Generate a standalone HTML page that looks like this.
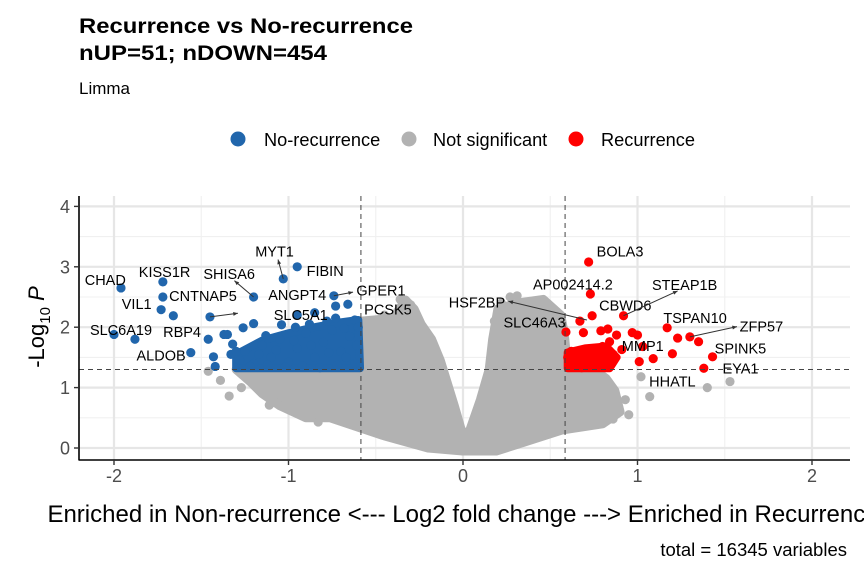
<!DOCTYPE html>
<html><head><meta charset="utf-8"><style>
body{margin:0;background:#fff;font-family:"Liberation Sans",Arial,sans-serif}
svg{display:block}
</style></head><body>
<svg id="chart" width="864" height="576" xmlns="http://www.w3.org/2000/svg" font-family="Liberation Sans, Arial, sans-serif">
<text x="79" y="33" font-size="21" font-weight="bold" fill="#000" textLength="334" lengthAdjust="spacingAndGlyphs">Recurrence vs No-recurrence</text>
<text x="79" y="60" font-size="21" font-weight="bold" fill="#000" textLength="248" lengthAdjust="spacingAndGlyphs">nUP=51; nDOWN=454</text>
<text x="79" y="94" font-size="17" fill="#000">Limma</text>
<g>
<g><circle cx="238" cy="139" r="7.5" fill="#2166ac"/><text x="264" y="146" font-size="18.2" fill="#000">No-recurrence</text></g>
<g><circle cx="409" cy="139" r="7.5" fill="#b2b2b2"/><text x="433" y="146" font-size="18.2" fill="#000">Not significant</text></g>
<g><circle cx="576" cy="139" r="7.5" fill="#ff0000"/><text x="601" y="146" font-size="18.2" fill="#000">Recurrence</text></g>
</g>
<g id="grid"></g>
<g id="marks"></g>
<g id="annot"></g>
<g id="axes"></g>
<text x="463" y="522" font-size="24" text-anchor="middle" fill="#000">Enriched in Non-recurrence &lt;--- Log2 fold change ---&gt; Enriched in Recurrence</text>
<text transform="translate(44,327) rotate(-90)" font-size="22" text-anchor="middle" fill="#000">-Log<tspan font-size="15" dy="6">10</tspan><tspan dy="-6" font-style="italic"> P</tspan></text>
<text x="847" y="556" font-size="18.5" text-anchor="end" fill="#000">total = 16345 variables</text>
</svg>
<script>
const xTicks=[-2,-1,0,1,2];
const yTicks=[0,1,2,3,4];
const fcCut=0.585, pCut=1.3;
// gray cloud envelopes [log2FC, -log10P]
const grayLeftPoly=[[0,-0.05],[-0.2,0.0],[-0.45,0.2],[-0.76,0.5],[-0.9,0.5],[-1.05,0.7],[-1.15,0.9],[-1.22,1.1],[-1.3,1.3],[-0.6,1.3],[-0.58,2.1],[-0.4,2.15],[-0.33,2.45],[-0.28,2.3],[-0.24,2.05],[-0.18,1.8],[-0.13,1.45],[-0.05,0.7],[0,0.2]];
const grayRightPoly=[[0,0.2],[0.04,0.3],[0.1,0.8],[0.15,1.3],[0.17,1.8],[0.2,2.3],[0.31,2.4],[0.46,2.46],[0.56,2.2],[0.58,1.9],[0.6,1.3],[0.75,1.3],[0.82,1.15],[0.87,0.95],[0.9,0.6],[0.8,0.4],[0.57,0.3],[0.3,0.05],[0.19,-0.05],[0,-0.05]];
const grayX=[-1.46,-1.39,-1.34,-1.27,-1.11,-0.83,-0.36,-0.3,-0.23,-0.45,-0.5,-1.2,-1.0,-0.95,0.27,0.31,0.22,0.86,0.93,1.07,1.02,1.4,1.53,0.66,0.74,0.8,0.18,-0.7,-0.9,0.95];
const grayY=[1.27,1.12,0.86,1.0,0.71,0.43,2.46,2.37,2.0,2.2,2.05,1.2,1.05,0.9,2.5,2.52,2.4,0.48,0.8,0.85,1.18,1.0,1.1,0.55,0.4,1.0,2.1,0.6,0.55,0.55];
// dense significant masses
const blueDensePoly=[[-1.3,1.32],[-1.3,1.55],[-1.15,1.78],[-1.0,1.9],[-0.85,2.0],[-0.7,2.08],[-0.6,2.12],[-0.59,1.32]];
const redDensePoly=[[0.6,1.32],[0.6,1.58],[0.7,1.65],[0.82,1.68],[0.88,1.5],[0.84,1.32]];
// significant blue (down)
const blueX=[-1.96,-1.72,-1.72,-1.73,-1.66,-2.0,-1.88,-1.56,-1.45,-1.2,-1.03,-0.95,-0.74,-0.73,-0.66,-0.95,-0.85,-1.2,-1.26,-1.35,-1.46,-1.43,-1.33,-1.42,-1.13,-1.04,-0.96,-0.73,-0.62,-1.28,-1.25,-1.2,-1.15,-1.1,-1.05,-1.0,-0.95,-0.9,-0.85,-0.8,-0.75,-0.7,-0.65,-0.6,-1.22,-1.12,-1.02,-0.92,-0.82,-0.72,-0.62,-1.17,-1.07,-0.97,-0.87,-0.77,-0.67,-0.61,-1.3,-0.88,-0.78,-0.68,-1.37,-1.32];
const blueY=[2.65,2.75,2.5,2.29,2.19,1.88,1.8,1.58,2.17,2.5,2.8,3.0,2.52,2.35,2.38,2.2,2.24,2.06,1.99,1.88,1.8,1.51,1.55,1.35,1.86,2.04,2.0,2.15,2.12,1.45,1.6,1.4,1.7,1.5,1.8,1.42,1.65,1.9,1.5,1.75,1.95,1.6,1.85,2.0,1.35,1.38,1.34,1.36,1.33,1.37,1.4,1.55,1.62,1.78,1.7,1.58,1.5,1.7,1.6,2.05,2.1,1.98,1.88,1.72];
// significant red (up)
const redX=[0.72,0.73,0.74,0.67,0.92,1.17,1.3,1.23,1.35,1.43,1.38,1.2,1.09,1.01,1.03,0.97,1.0,0.88,0.79,0.83,0.69,0.59,0.84,0.91,0.8,0.6,0.63,0.66,0.7,0.73,0.76,0.62,0.68,0.75,0.78,0.82,0.65,0.71,0.86];
const redY=[3.08,2.55,2.19,2.1,2.19,1.99,1.84,1.82,1.76,1.51,1.32,1.56,1.48,1.43,1.68,1.91,1.87,1.87,1.94,1.97,1.91,1.92,1.76,1.63,1.68,1.5,1.35,1.55,1.42,1.5,1.38,1.6,1.33,1.58,1.45,1.52,1.48,1.62,1.55];
// labels
const labNames=["CHAD","KISS1R","SHISA6","MYT1","FIBIN","CNTNAP5","ANGPT4","GPER1","VIL1","SLC5A1","PCSK5","SLC6A19","RBP4","ALDOB","BOLA3","AP002414.2","HSF2BP","STEAP1B","CBWD6","SLC46A3","TSPAN10","ZFP57","MMP1","SPINK5","EYA1","HHATL"];
const labX=[-2.05,-1.71,-1.34,-1.08,-0.79,-1.49,-0.95,-0.47,-1.87,-0.93,-0.43,-1.96,-1.61,-1.73,0.9,0.63,0.08,1.27,0.93,0.41,1.33,1.71,1.03,1.59,1.59,1.2];
const labY=[2.78,2.91,2.88,3.25,2.93,2.52,2.53,2.61,2.38,2.2,2.29,1.95,1.92,1.53,3.25,2.71,2.41,2.7,2.36,2.08,2.15,2.01,1.69,1.65,1.32,1.1];
const arrows=[[-1.03,2.8,-1.06,3.12],[-1.2,2.5,-1.31,2.77],[-0.74,2.52,-0.63,2.58],[-1.45,2.17,-1.29,2.23],[0.71,2.12,0.26,2.43],[0.92,2.19,1.23,2.6],[1.3,1.84,1.57,2.01]];

const ns="http://www.w3.org/2000/svg";
const X0=79,X1=850,Y0=196,Y1=460;
const sx=v=>463+v*174.5;
const sy=v=>448-v*60.4;
function mk(tag,attrs,parent){const e=document.createElementNS(ns,tag);for(const k in attrs)e.setAttribute(k,attrs[k]);parent.appendChild(e);return e;}
const grid=document.getElementById('grid'),marks=document.getElementById('marks'),annot=document.getElementById('annot'),axes=document.getElementById('axes');
for(let i=0;i<xTicks.length-1;i++){const v=(xTicks[i]+xTicks[i+1])/2;const l=mk('line',{x1:sx(v),x2:sx(v),y1:Y0,y2:Y1,stroke:'#f0f0f0','stroke-width':1.1},grid);}
for(let i=0;i<yTicks.length-1;i++){const v=yTicks[i]+0.5;const l=mk('line',{x1:X0,x2:X1,y1:sy(v),y2:sy(v),stroke:'#f0f0f0','stroke-width':1.1},grid);}
xTicks.forEach(v=>{const l=mk('line',{x1:sx(v),x2:sx(v),y1:Y0,y2:Y1,stroke:'#e6e6e6','stroke-width':2.2},grid);});
yTicks.forEach(v=>{const l=mk('line',{x1:X0,x2:X1,y1:sy(v),y2:sy(v),stroke:'#e6e6e6','stroke-width':2.2},grid);});
[grayLeftPoly,grayRightPoly].forEach(p=>{const e=mk('polygon',{points:p.map(d=>sx(d[0])+','+sy(d[1])).join(' '),fill:'#b2b2b2',stroke:'#b2b2b2','stroke-width':9,'stroke-linejoin':'round'},marks);});
grayX.forEach((v,i)=>{const c=mk('circle',{cx:sx(v),cy:sy(grayY[i]),r:4.6,fill:'#b2b2b2'},marks);});
{const e=mk('polygon',{points:blueDensePoly.map(d=>sx(d[0])+','+sy(d[1])).join(' '),fill:'#2166ac',stroke:'#2166ac','stroke-width':8,'stroke-linejoin':'round'},marks);}
{const e=mk('polygon',{points:redDensePoly.map(d=>sx(d[0])+','+sy(d[1])).join(' '),fill:'#ff0000',stroke:'#ff0000','stroke-width':8,'stroke-linejoin':'round'},marks);}
blueX.forEach((v,i)=>{const c=mk('circle',{cx:sx(v),cy:sy(blueY[i]),r:4.6,fill:'#2166ac'},marks);});
redX.forEach((v,i)=>{const c=mk('circle',{cx:sx(v),cy:sy(redY[i]),r:4.6,fill:'#ff0000'},marks);});
[-fcCut,fcCut].forEach(v=>{const l=mk('line',{x1:sx(v),x2:sx(v),y1:Y0,y2:Y1,stroke:'#444','stroke-width':1,'stroke-dasharray':'5,4'},marks);});
{const l=mk('line',{x1:X0,x2:X1,y1:sy(pCut),y2:sy(pCut),stroke:'#444','stroke-width':1,'stroke-dasharray':'5,4'},marks);}
labNames.forEach((n,i)=>{const t=mk('text',{x:sx(labX[i]),y:sy(labY[i])+5,'font-size':14.5,'text-anchor':'middle',fill:'#000'},annot);t.textContent=n;});
arrows.forEach(a=>{const x1=sx(a[0]),y1=sy(a[1]),x2=sx(a[2]),y2=sy(a[3]);const g=mk('g',{},annot);mk('line',{x1,y1,x2,y2,stroke:'#333','stroke-width':1},g);const ang=Math.atan2(y2-y1,x2-x1),L=5;const p1=[x2-L*Math.cos(ang-0.4),y2-L*Math.sin(ang-0.4)],p2=[x2-L*Math.cos(ang+0.4),y2-L*Math.sin(ang+0.4)];mk('polygon',{points:`${x2},${y2} ${p1} ${p2}`,fill:'#333'},g);});
{const l=mk('line',{x1:X0,x2:X0,y1:Y0,y2:Y1+0.5,stroke:'#000','stroke-width':1.6},axes);}
{const l=mk('line',{x1:X0,x2:X1,y1:Y1,y2:Y1,stroke:'#000','stroke-width':1.6},axes);}
xTicks.forEach(v=>{mk('line',{x1:sx(v),x2:sx(v),y1:Y1,y2:Y1+5,stroke:'#333','stroke-width':1.4},axes);const t=mk('text',{x:sx(v),y:Y1+22,'font-size':18,'text-anchor':'middle',fill:'#4d4d4d'},axes);t.textContent=v;});
yTicks.forEach(v=>{mk('line',{x1:X0-5,x2:X0,y1:sy(v),y2:sy(v),stroke:'#333','stroke-width':1.4},axes);const t=mk('text',{x:X0-9,y:sy(v)+6.5,'font-size':18,'text-anchor':'end',fill:'#4d4d4d'},axes);t.textContent=v;});
</script>
</body></html>
